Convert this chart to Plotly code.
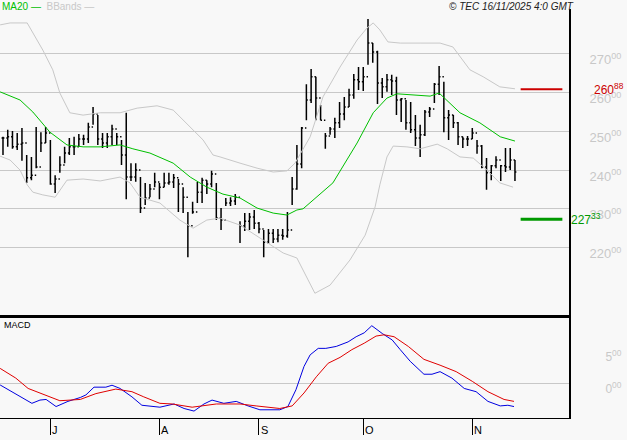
import plotly.graph_objects as go
from plotly.subplots import make_subplots

# ==== price bars (bar number, high, low, close) ====
highs = [248.6, 250.4, 250.1, 249.6, 250.9, 243.9, 243.4, 251.1, 249.8, 251.1,
         247.8, 238.7, 243.6, 246.0, 248.3, 248.6, 249.3, 249.1, 252.2, 256.3,
         254.2, 249.6, 249.6, 251.7, 249.6, 247.8, 254.8, 241.8, 241.8, 238.2,
         236.7, 236.4, 239.3, 236.7, 239.3, 239.3, 239.0, 237.7, 235.6, 229.2,
         231.8, 236.9, 238.0, 237.4, 239.8, 236.7, 230.2, 232.8, 233.0, 233.8,
         226.8, 228.9, 228.9, 229.7, 226.6, 224.5, 224.8, 224.8, 224.8, 224.8,
         229.2, 238.2, 246.5, 251.1, 262.2, 266.1, 264.1, 256.8, 249.6, 251.1,
         253.5, 257.6, 258.9, 261.0, 264.8, 266.6, 266.6, 279.0, 272.8, 270.8,
         263.8, 264.8, 264.6, 264.1, 258.6, 258.1, 257.6, 254.2, 251.7, 255.5,
         256.3, 262.5, 266.9, 262.8, 255.5, 254.2, 252.4, 248.6, 248.8, 250.9,
         247.8, 246.5, 243.1, 241.3, 243.6, 241.3, 245.7, 245.7, 242.6]
lows = [243.9, 246.0, 245.5, 245.2, 242.4, 236.7, 237.4, 240.5, 244.7, 247.0,
        236.2, 234.1, 239.3, 241.8, 243.9, 243.9, 246.0, 246.5, 247.0, 251.7,
        246.5, 245.7, 245.7, 246.5, 246.5, 241.3, 232.5, 237.2, 237.0, 228.9,
        231.0, 233.0, 235.6, 232.5, 235.6, 236.2, 235.4, 229.2, 228.9, 217.5,
        228.7, 231.5, 231.5, 233.8, 235.6, 227.1, 224.5, 230.7, 230.7, 231.0,
        221.2, 224.3, 224.5, 224.8, 223.7, 217.5, 220.9, 221.2, 221.4, 222.0,
        222.5, 231.0, 234.9, 240.5, 252.9, 257.3, 252.9, 252.9, 245.5, 249.1,
        248.3, 250.9, 252.9, 256.3, 258.4, 260.7, 260.4, 267.2, 267.7, 257.1,
        258.6, 260.2, 259.4, 254.2, 252.4, 250.4, 249.6, 246.2, 243.4, 248.8,
        253.7, 257.3, 259.4, 249.8, 247.8, 250.9, 246.5, 245.7, 246.2, 248.0,
        244.2, 240.5, 234.9, 237.4, 240.5, 237.2, 239.5, 240.0, 237.2]
closes = [248.3, 248.6, 246.0, 246.7, 247.0, 238.0, 238.7, 240.8, 247.0, 249.6,
          236.4, 237.7, 241.3, 244.4, 246.0, 246.0, 248.0, 248.0, 251.1, 254.5,
          248.0, 247.0, 248.6, 250.6, 248.6, 243.9, 238.2, 238.2, 240.0, 230.2,
          232.8, 235.1, 236.9, 235.6, 236.7, 236.9, 238.0, 236.4, 233.0, 225.6,
          229.2, 234.3, 237.4, 236.4, 239.0, 227.6, 227.1, 231.5, 232.0, 233.0,
          225.6, 226.8, 227.9, 226.3, 224.8, 221.4, 223.7, 222.2, 223.2, 223.0,
          224.5, 235.1, 241.6, 250.9, 258.1, 264.1, 258.6, 252.9, 248.8, 250.6,
          252.2, 254.5, 256.3, 259.4, 263.3, 262.8, 264.1, 272.8, 270.5, 262.5,
          261.5, 263.3, 263.0, 258.1, 258.4, 252.2, 250.4, 248.3, 249.1, 255.0,
          255.8, 262.2, 264.1, 253.5, 254.2, 252.2, 248.6, 248.0, 248.0, 249.6,
          246.2, 240.8, 239.3, 241.1, 242.6, 241.1, 240.8, 242.6, 239.5]
bars = list(range(1, len(closes) + 1))
opens = [closes[0]] + closes[:-1]

# ==== indicators ====
ma_x = [0.4, 4.6, 7.3, 10.9, 14.5, 17.9, 21.5, 25.7, 28.4, 32, 36.9, 40.5, 44, 47.4,
        51, 54.6, 58, 60.9, 63, 64.3, 70.6, 75.7, 79.1, 82, 84.1, 91.1, 93, 97.4,
        101.6, 105.9, 109]
ma20 = [260.2, 258.1, 255.0, 249.8, 246.5, 246.0, 246.0, 246.5, 245.5, 244.4, 241.8,
        238.2, 235.6, 233.8, 232.8, 230.2, 228.9, 228.4, 229.7, 230.0, 236.7, 247.0,
        254.8, 258.6, 259.7, 259.1, 259.9, 254.8, 252.2, 248.6, 247.5]

up_x = [0.4, 2.5, 6.1, 9.4, 11.5, 13, 15.1, 17.9, 21.5, 25.7, 29.3, 33.5, 36.9, 40.5,
        43.2, 45.3, 46.8, 51, 54.6, 58, 60.9, 62.6, 65.8, 68.5, 72.1, 75.7, 77.8,
        79.1, 80.5, 82.2, 84.8, 89, 93.2, 95.9, 98, 99.5, 102.3, 105.8, 109]
bb_up = [277.5, 278.0, 278.0, 271.0, 265.9, 259.9, 254.8, 254.2, 254.8, 254.8, 256.0,
         256.6, 255.5, 251.1, 247.8, 243.9, 243.4, 241.8, 240.5, 239.5, 239.8, 241.8,
         248.6, 258.9, 266.6, 273.6, 276.7, 278.0, 276.2, 273.1, 272.8, 272.8, 272.8,
         271.8, 268.4, 265.9, 264.1, 261.5, 261.0]
lo_x = [0.4, 2.5, 4.6, 6.1, 7.3, 9.4, 12, 14.5, 17.9, 21.5, 25.7, 27.8, 29.9, 32,
        34.1, 38.3, 41.1, 44, 46.8, 51, 53.7, 56.7, 60.1, 63, 66.8, 70, 74.2, 77.4,
        79.5, 80.5, 82, 83.3, 86.2, 89, 92.6, 94.7, 97.4, 100.2, 103.1, 105.8, 108.6]
bb_lo = [243.6, 242.6, 240.0, 236.2, 234.3, 233.6, 233.0, 237.4, 237.7, 237.2, 238.2,
         236.7, 233.0, 232.3, 231.5, 227.1, 225.0, 227.1, 227.6, 225.8, 223.7, 221.2,
         218.6, 217.3, 208.2, 210.3, 216.8, 223.2, 230.5, 236.2, 243.4, 246.2, 246.0,
         245.5, 246.7, 245.5, 243.4, 243.1, 240.0, 236.7, 235.6]

macd_x = [0.4, 2.9, 5, 7.1, 8.8, 10.1, 12.2, 14.7, 17.3, 18.5, 20.2, 22.7, 24, 25.7,
          28.2, 30.3, 34.1, 37.1, 39.2, 41.3, 43.4, 45.1, 47.6, 50.2, 52.7, 55.2,
          59.4, 61.1, 62.8, 64.5, 65.8, 67.5, 69.1, 71.3, 73.8, 75.5, 77.2, 78.8, 81,
          83.1, 84.8, 86.9, 89.8, 91.5, 93.2, 95.7, 98.3, 100.8, 103.3, 105.9, 107.5,
          108.8]
macd = [-0.26, -1.3, -2.1, -3.1, -2.6, -2.5, -3.6, -2.8, -2.2, -1.8, -0.6, -0.6, -0.3,
        -0.8, -2.1, -3.4, -3.7, -3.2, -3.9, -4.3, -3.2, -2.6, -3.1, -2.8, -3.5, -4.1,
        -4.1, -3.6, -1.0, 2.6, 4.4, 5.4, 5.4, 5.7, 6.4, 7.2, 7.8, 8.9, 7.7, 6.7, 5.2,
        3.4, 1.4, 1.4, 1.8, 0.8, -0.8, -1.3, -2.8, -3.5, -3.4, -3.6]
sig_x = [0.4, 3.7, 6.3, 8.8, 13, 17.3, 20.6, 24.8, 28.2, 30.7, 34.1, 36.7, 40.9, 46,
         51, 54.4, 59.4, 62, 64.5, 67.1, 69.6, 72.1, 74.6, 77.2, 79.7, 81.4, 83.5,
         86.5, 89.8, 93.2, 96.6, 100, 103.3, 106.7, 108.8]
signal = [2.3, 0.8, -0.8, -1.5, -2.7, -2.5, -1.6, -0.9, -1.3, -2.1, -3.1, -3.2, -3.7,
          -3.2, -3.2, -3.5, -3.9, -3.5, -1.5, 1.0, 3.1, 4.0, 5.2, 6.2, 7.3, 7.5, 7.2,
          5.7, 3.7, 2.8, 1.8, 0.3, -1.3, -2.5, -2.8]

resistance = 260.88
support = 227.33
price_ticks = [220, 230, 240, 250, 260, 270]
macd_ticks = [0, 5]
month_bars = [11, 34, 54.9, 77, 100]
month_labels = ["J", "A", "S", "O", "N"]

BG = "#f8f8f8"
GRID = "#c8c8c8"
FONT = "Liberation Sans, Arial, sans-serif"

fig = make_subplots(rows=2, cols=1, shared_xaxes=True, vertical_spacing=0,
                    row_heights=[0.748, 0.252])

fig.add_trace(go.Scatter(x=up_x, y=bb_up, mode="lines",
                         line=dict(color="#c8c8c8", width=1), hoverinfo="skip"), row=1, col=1)
fig.add_trace(go.Scatter(x=lo_x, y=bb_lo, mode="lines",
                         line=dict(color="#c8c8c8", width=1), hoverinfo="skip"), row=1, col=1)
fig.add_trace(go.Scatter(x=ma_x, y=ma20, mode="lines",
                         line=dict(color="#00c000", width=1), hoverinfo="skip"), row=1, col=1)
fig.add_trace(go.Ohlc(x=bars, open=opens, high=highs, low=lows, close=closes,
                      increasing=dict(line=dict(color="black", width=1.5)),
                      decreasing=dict(line=dict(color="black", width=1.5)),
                      tickwidth=0.3), row=1, col=1)

fig.add_trace(go.Scatter(x=macd_x, y=macd, mode="lines",
                         line=dict(color="#0000e0", width=1)), row=2, col=1)
fig.add_trace(go.Scatter(x=sig_x, y=signal, mode="lines",
                         line=dict(color="#e00000", width=1)), row=2, col=1)

# support / resistance marks
fig.add_shape(type="line", x0=110.2, x1=119, y0=resistance, y1=resistance,
              line=dict(color="#cc0000", width=2), row=1, col=1)
fig.add_shape(type="line", x0=110.2, x1=119, y0=support, y1=support,
              line=dict(color="#009900", width=3), row=1, col=1)
fig.add_annotation(x=1.04, xref="paper", y=resistance, yref="y", xanchor="left",
                   text="260<sup>88</sup>", showarrow=False,
                   font=dict(color="#cc0000", size=12, family=FONT))
fig.add_annotation(x=1.0, xref="paper", y=support, yref="y", xanchor="left",
                   text="227<sup>33</sup>", showarrow=False,
                   font=dict(color="#009900", size=12, family=FONT))

# header texts
fig.add_annotation(x=0, xref="paper", y=1.0, yref="paper", yshift=10, yanchor="top",
                   xanchor="left",
                   text="<span style='color:#00c000'>MA20 —</span>  "
                        "<span style='color:#c8c8c8'>BBands —</span>",
                   showarrow=False, font=dict(size=10, family=FONT))
fig.add_annotation(x=1.012, xref="paper", y=1.0, yref="paper", yshift=10, yanchor="top",
                   xanchor="right", text="<i>© TEC 16/11/2025 4:0 GMT</i>",
                   showarrow=False, font=dict(size=10, family=FONT, color="#202020"))
fig.add_annotation(x=0.004, xref="paper", y=0.245, yref="paper", yanchor="top",
                   xanchor="left", text="MACD", showarrow=False,
                   font=dict(size=9, family=FONT, color="black"))
for b, lab in zip(month_bars, month_labels):
    fig.add_annotation(x=b, xref="x2", y=0, yref="paper", yshift=-4, yanchor="top",
                       xanchor="left", text=lab, showarrow=False,
                       font=dict(size=11, family=FONT, color="black"))

fig.update_xaxes(range=[0.37, 120.4], showgrid=False, zeroline=False,
                 rangeslider_visible=False, showline=True, linecolor="black",
                 automargin=False)
fig.update_xaxes(showticklabels=False, ticks="", row=1, col=1, showline=True,
                 linewidth=3, linecolor="black")
fig.update_xaxes(tickvals=month_bars, ticks="outside", ticklen=16, tickcolor="black",
                 showticklabels=False, showline=True, linewidth=1, row=2, col=1)

fig.update_yaxes(side="right", range=[202.6, 281.6], tickvals=price_ticks,
                 ticktext=[f"{t}<sup>00</sup>" for t in price_ticks],
                 showgrid=True, gridcolor=GRID, gridwidth=1, zeroline=False,
                 showline=True, linecolor="black", linewidth=2, ticklabelstandoff=16,
                 ticklabelshift=6, automargin=False,
                 tickfont=dict(color="#c8c8c8", size=13, family=FONT), row=1, col=1)
fig.update_yaxes(side="right", range=[-5.37, 10.57], tickvals=macd_ticks,
                 ticktext=[f"{t}<sup>00</sup>" for t in macd_ticks],
                 showgrid=False, zeroline=True, zerolinecolor=GRID, zerolinewidth=1,
                 showline=True, linecolor="black", linewidth=2, ticklabelstandoff=32,
                 ticklabelshift=6, automargin=False,
                 tickfont=dict(color="#c8c8c8", size=12, family=FONT), row=2, col=1)

fig.update_layout(width=627, height=440, showlegend=False,
                  paper_bgcolor=BG, plot_bgcolor=BG,
                  margin=dict(l=0, r=58, t=9, b=22, autoexpand=False),
                  font=dict(family=FONT))

fig.write_html("out.html", config={"displayModeBar": False},
               post_script="document.body.style.margin='0';")
